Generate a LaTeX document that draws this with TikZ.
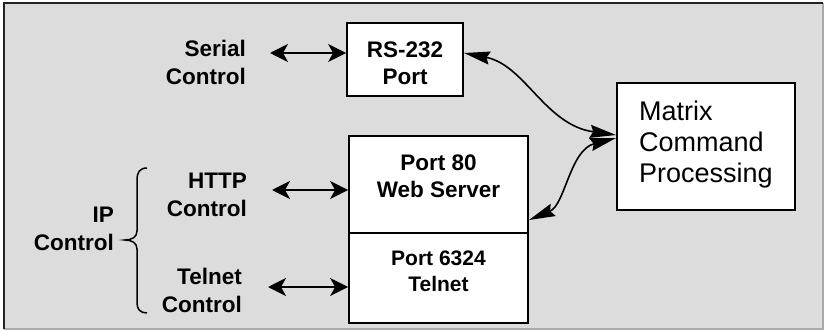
\documentclass[tikz,border=0pt]{standalone}
\usepackage{fontspec}
\setmainfont{Liberation Sans}
\usetikzlibrary{arrows.meta}
\definecolor{bg}{HTML}{DCDCDC}
\definecolor{frameL}{HTML}{222222}
\definecolor{frameR}{HTML}{AAAAAA}
\tikzset{
  box/.style={draw=black, line width=1.8pt, fill=white, rectangle, inner sep=0pt},
  lbl/.style={inner sep=0pt, align=right, anchor=east, font=\fontsize{22.5}{28}\selectfont\bfseries},
  boxtxt/.style={inner sep=0pt, align=center, font=\fontsize{22.5}{27}\selectfont\bfseries},
  biarrow/.style={line width=1.6pt, {Stealth[length=18pt,width=18pt,inset=5pt]}-{Stealth[length=18pt,width=18pt,inset=5pt]}},
  curvearrow/.style={line width=1.6pt, {Stealth[length=26pt,width=13pt,inset=3pt]}-{Stealth[length=26pt,width=13pt,inset=3pt]}},
}
\begin{document}
\begin{tikzpicture}[x=1pt,y=-1pt]
\useasboundingbox (0,0) rectangle (826,331);
\fill[white] (0,0) rectangle (826,331);
\fill[bg] (4,3) rectangle (823,329);
\draw[frameR, line width=1.2pt] (823,3) -- (823,329) -- (4,329);
\draw[frameL, line width=2.2pt] (4,329) -- (4,3) -- (823,3);

% boxes
\node[box, minimum width=116pt, minimum height=73pt] (rs) at (405,59.5) {};
\node[box, minimum width=179pt, minimum height=97pt] (p80) at (438.5,184.5) {};
\node[box, minimum width=179pt, minimum height=90pt] (p6324) at (438.5,278) {};
\node[box, minimum width=178pt, minimum height=127pt] (mx) at (706,146.5) {};

% box texts
\node[boxtxt] (rst) at (405,63) {RS-232\\Port};
\node[boxtxt] (p80t) at (438.5,176.5) {Port 80\\Web Server};
\node[boxtxt, font=\fontsize{21}{26}\selectfont\bfseries] (p6324t) at (438.5,271) {Port 6324\\Telnet};
\node[inner sep=0pt, align=left, anchor=west, font=\fontsize{27}{31}\selectfont] (mxt) at (639,145) {Matrix\\Command\\Processing};

% labels
\node[lbl] (serial) at (246,62.5) {Serial\\Control};
\node[lbl] (http) at (247,195) {HTTP\\Control};
\node[lbl] (telnet) at (242,290) {Telnet\\Control};
\node[lbl] (ip) at (114,229) {IP\\Control};

% brace
\draw[line width=1.5pt] (147,168) .. controls (140,168) and (137,172) .. (137,180) -- (137,231)
  .. controls (137,237) and (132,240) .. (125,240)
  .. controls (132,240) and (137,243) .. (137,249) -- (137,303)
  .. controls (137,309) and (140,313) .. (147,313);

% straight arrows
\coordinate (a1) at (270,53);
\coordinate (a2) at (272,190);
\coordinate (a3) at (268,287);
\draw[biarrow] (a1) -- (a1 -| rs.west);
\draw[biarrow] (a2) -- (a2 -| p80.west);
\draw[biarrow] (a3) -- (a3 -| p6324.west);

% curved arrows
\coordinate (c1) at (464,53);
\coordinate (c2) at (529,220);
\coordinate (m1) at (616,135);
\coordinate (m2) at (616,138);
\draw[curvearrow] (c1) .. controls (525,65) and (545,125) .. (m1);
\draw[curvearrow] (c2) .. controls (565,205) and (570,150) .. (m2);
\end{tikzpicture}
\end{document}
